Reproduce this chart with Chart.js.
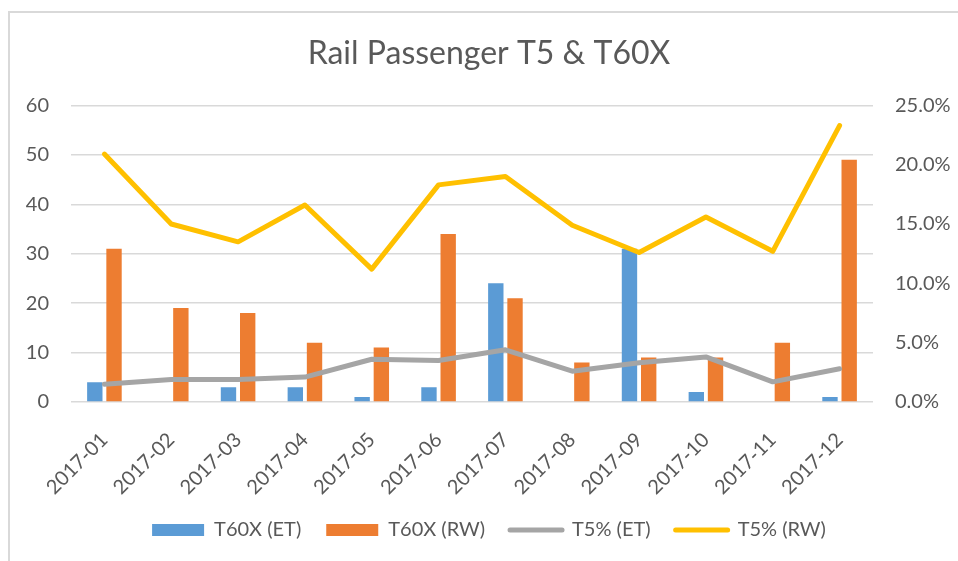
<!DOCTYPE html>
<html lang="en">
<head>
<meta charset="UTF-8">
<title>Rail Passenger T5 & T60X</title>
<script src="https://cdn.jsdelivr.net/npm/chart.js@4"></script>
<style>
  html, body { margin: 0; padding: 0; background: #fff; overflow: hidden; }
  #frame { position: absolute; left: 8px; top: 11px; width: 1000px; height: 600px;
           border-left: 2px solid #d9d9d9; border-top: 2px solid #d9d9d9; }
  #wrap { position: absolute; left: 0; top: 0; width: 958px; height: 561px; }
</style>
</head>
<body>
<div id="frame"></div>
<div id="wrap"><canvas id="myChart"></canvas></div>
<script>
// chart data
const months = ['2017-01', '2017-02', '2017-03', '2017-04', '2017-05', '2017-06',
                '2017-07', '2017-08', '2017-09', '2017-10', '2017-11', '2017-12'];
const t60xET = [4, 0, 3, 3, 1, 3, 24, 0, 31, 2, 0, 1];
const t60xRW = [31, 19, 18, 12, 11, 34, 21, 8, 9, 9, 12, 49];
const t5ET = [0.015, 0.019, 0.019, 0.021, 0.036, 0.035, 0.044, 0.026, 0.033, 0.038, 0.017, 0.028];
const t5RW = [0.209, 0.150, 0.135, 0.166, 0.112, 0.183, 0.190, 0.149, 0.126, 0.156, 0.127, 0.233];
const leftTicks = [0, 10, 20, 30, 40, 50, 60];
const rightTicks = [0, 0.05, 0.10, 0.15, 0.20, 0.25];

const textColor = '#595959';
const gridColor = '#d9d9d9';

Chart.defaults.font.family = 'Lato, "Open Sans", sans-serif';
Chart.defaults.font.size = 20;
Chart.defaults.color = textColor;

const ctx = document.getElementById('myChart').getContext('2d');
const myChart = new Chart(ctx, {
  data: {
    labels: months,
    datasets: [
      { type: 'bar', label: 'T60X (ET)', data: t60xET, backgroundColor: '#5b9bd5',
        yAxisID: 'y', order: 2, categoryPercentage: 0.575, barPercentage: 0.8 },
      { type: 'bar', label: 'T60X (RW)', data: t60xRW, backgroundColor: '#ed7d31',
        yAxisID: 'y', order: 2, categoryPercentage: 0.575, barPercentage: 0.8 },
      { type: 'line', label: 'T5% (ET)', data: t5ET, borderColor: '#a5a5a5', backgroundColor: '#a5a5a5',
        borderWidth: 5, pointRadius: 0, pointHoverRadius: 0, tension: 0,
        borderJoinStyle: 'round', borderCapStyle: 'round', yAxisID: 'y1', order: 1 },
      { type: 'line', label: 'T5% (RW)', data: t5RW, borderColor: '#ffc000', backgroundColor: '#ffc000',
        borderWidth: 5, pointRadius: 0, pointHoverRadius: 0, tension: 0,
        borderJoinStyle: 'round', borderCapStyle: 'round', yAxisID: 'y1', order: 0 }
    ]
  },
  options: {
    responsive: true,
    maintainAspectRatio: false,
    animation: false,
    layout: { padding: { left: 26, right: 6, top: 0, bottom: 11 } },
    plugins: {
      title: {
        display: true,
        text: 'Rail Passenger T5 & T60X',
        color: textColor,
        font: { size: 32, weight: 'normal' },
        padding: { top: 34, bottom: 33 }
      },
      legend: {
        position: 'bottom',
        labels: {
          usePointStyle: true,
          pointStyleWidth: 52,
          boxHeight: 12,
          padding: 25,
          color: textColor,
          sort: (a, b) => a.datasetIndex - b.datasetIndex,
          generateLabels(chart) {
            const items = Chart.defaults.plugins.legend.labels.generateLabels(chart);
            items.forEach(it => {
              const ds = chart.data.datasets[it.datasetIndex];
              if (ds.type === 'line') {
                it.pointStyle = 'line';
                it.lineWidth = 5;
                it.strokeStyle = ds.borderColor;
                it.lineCap = 'round';
              } else {
                it.pointStyle = 'rect';
                it.lineWidth = 0;
              }
            });
            return items;
          }
        }
      },
      tooltip: { enabled: false }
    },
    scales: {
      x: {
        grid: { display: false },
        border: { display: false },
        ticks: { minRotation: 45, maxRotation: 45, padding: 18, color: textColor },
        afterFit(scale) { scale.height = 93; }
      },
      y: {
        position: 'left',
        min: 0, max: 60,
        afterBuildTicks(scale) { scale.ticks = leftTicks.map(v => ({ value: v })); },
        grid: { color: gridColor, lineWidth: 1.5, drawTicks: false },
        border: { display: false },
        ticks: { padding: 22, color: textColor },
        afterFit(scale) { scale.width = 45; }
      },
      y1: {
        position: 'right',
        min: 0, max: 0.25,
        afterBuildTicks(scale) { scale.ticks = rightTicks.map(v => ({ value: v })); },
        grid: { display: false, drawTicks: false },
        border: { display: false },
        ticks: { padding: 22, color: textColor, callback: v => (v * 100).toFixed(1) + '%' },
        afterFit(scale) { scale.width = 79; }
      }
    }
  }
});
</script>
</body>
</html>
